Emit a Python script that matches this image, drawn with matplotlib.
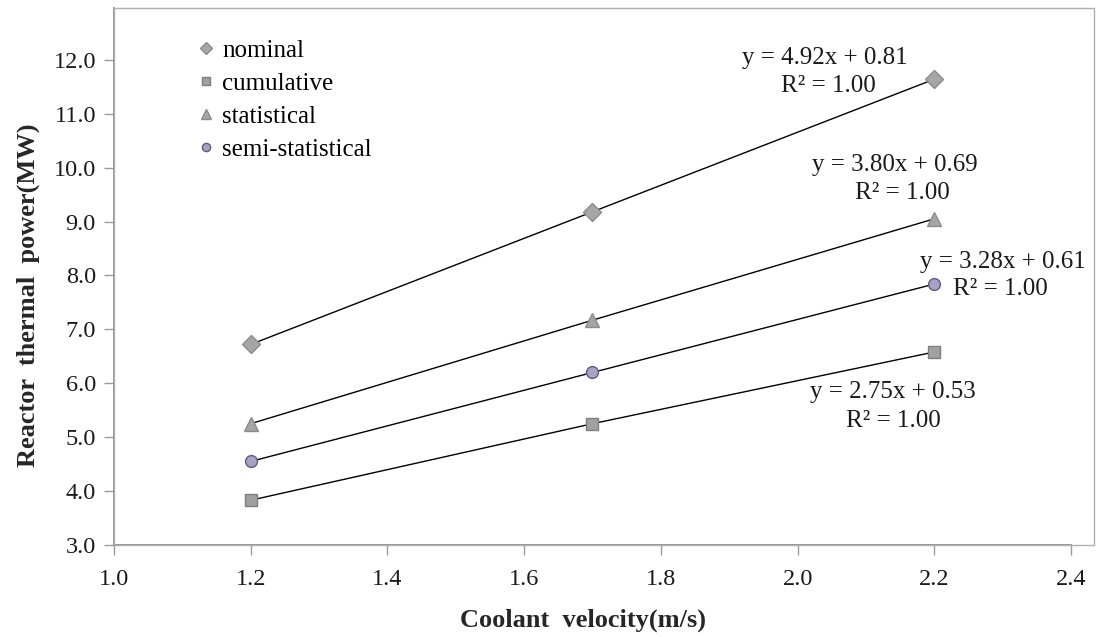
import matplotlib
matplotlib.use("Agg")
import matplotlib.pyplot as plt
from matplotlib.patches import Rectangle

velocity = [1.2, 1.7, 2.2]
nominal = [6.72, 9.18, 11.64]
cumulative = [3.83, 5.25, 6.58]
statistical = [5.25, 7.17, 9.05]
semi_statistical = [4.55, 6.20, 7.84]
labels = ["nominal", "cumulative", "statistical", "semi-statistical"]
equations = ["y = 4.92x + 0.81", "y = 2.75x + 0.53", "y = 3.80x + 0.69", "y = 3.28x + 0.61"]
r2_text = "R² = 1.00"
x_ticks = [1.0, 1.2, 1.4, 1.6, 1.8, 2.0, 2.2, 2.4]
y_ticks = [3.0, 4.0, 5.0, 6.0, 7.0, 8.0, 9.0, 10.0, 11.0, 12.0]

plt.rcParams['font.family'] = ['Liberation Serif', 'DejaVu Serif']

fig = plt.figure(figsize=(11, 6.37), dpi=100)
ax = fig.add_axes([114 / 1100, 1 - 545 / 637, (1071 - 114) / 1100, (545 - 8) / 637])

series = [nominal, cumulative, statistical, semi_statistical]
markers = ['D', 's', '^', 'o']
sizes = [9, 8.5, 9.5, 8.5]
faces = ['#a6a6a6', '#a0a0a0', '#a6a6a6', '#a7a3c4']
edges = ['#8c8c8c', '#7f7f7f', '#8c8c8c', '#5e5a80']

for ys, m, s, fc, ec, lab in zip(series, markers, sizes, faces, edges, labels):
    ax.plot(velocity, ys, color='black', lw=1.0, zorder=2)
    ax.plot(velocity, ys, ls='none', marker=m, ms=s, mfc=fc, mec=ec, mew=1.0,
            label=lab, zorder=3)

ax.set_xlim(1.0, 2.4)
ax.set_ylim(3.0, 12.96)
ax.set_xticks(x_ticks)
ax.set_xticklabels([f"{v:.1f}" for v in x_ticks])
ax.set_yticks(y_ticks)
ax.set_yticklabels([f"{v:.1f}" for v in y_ticks])
ax.tick_params(axis='both', labelsize=17.5, labelcolor='#1a1a1a', length=7, width=1,
               direction='out', color='#9a9a9a')
ax.tick_params(axis='x', pad=10)
ax.tick_params(axis='y', pad=6)
for sp in ['top', 'right']:
    ax.spines[sp].set_visible(False)
for sp in ['left', 'bottom']:
    ax.spines[sp].set_color('#8a8a8a')
    ax.spines[sp].set_linewidth(1.3)

ax.set_xlabel("Coolant  velocity(m/s)", fontsize=19, fontweight='bold',
              color='#262626', va='center')
ax.set_ylabel("Reactor  thermal  power(MW)", fontsize=19, fontweight='bold',
              color='#262626', va='center')
ax.xaxis.set_label_coords(0.49, -0.14)
ax.yaxis.set_label_coords(-0.09, 0.465)

def px2data(px, py):
    return 1.0 + (px - 114) / 683.6, 3.0 + (545 - py) / 53.9

ann = [
    (equations[0], 825, 58, 828, 86),
    (equations[2], 895, 165, 902, 193),
    (equations[3], 1003, 262, 1000, 289),
    (equations[1], 893, 392, 893, 421),
]
for eq, ex, ey, rx, ry in ann:
    x, y = px2data(ex, ey)
    ax.text(x, y, eq, fontsize=18, ha='center', va='center', color='#1a1a1a', clip_on=False)
    x, y = px2data(rx, ry)
    ax.text(x, y, r2_text, fontsize=18, ha='center', va='center', color='#1a1a1a', clip_on=False)

leg = ax.legend(loc='upper left', bbox_to_anchor=(0.078, 0.96), frameon=False,
                fontsize=18, handlelength=0.6, handletextpad=0.35, labelspacing=0.42,
                markerscale=0.7, borderaxespad=0)

fig.patches.append(Rectangle((114 / 1100, 1 - 545 / 637), (1094 - 114) / 1100,
                             (545 - 8) / 637, transform=fig.transFigure, fill=False,
                             edgecolor='#b0b0b0', lw=1.0, zorder=0))

fig.savefig("out.png", dpi=100)
